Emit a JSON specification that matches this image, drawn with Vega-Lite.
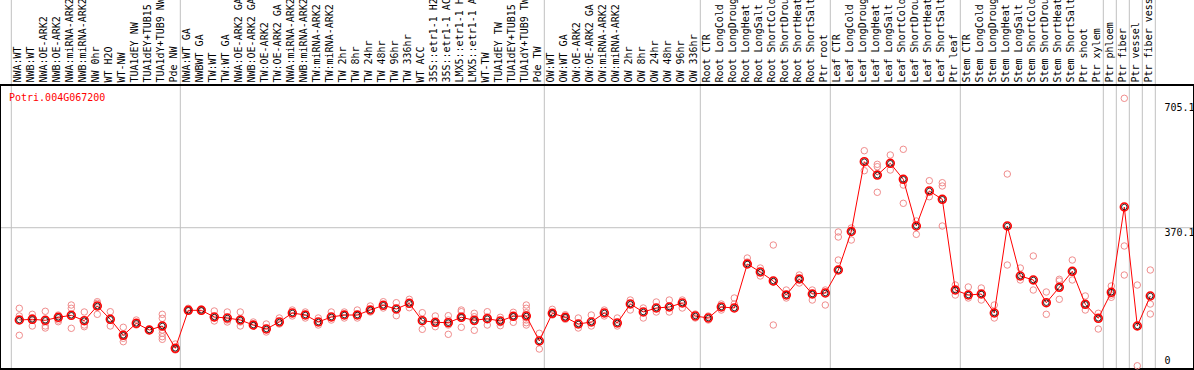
{
 "$schema": "https://vega.github.io/schema/vega-lite/v6.json",
 "width": 1194, "height": 370, "autosize": "none", "padding": 0,
 "background": "white",
 "config": {"view": {"stroke": null}, "font": "DejaVu Sans Mono"},
 "datasets": {
  "cols": [
   {"i":0,"col":"00 NWA:WT","mean":122.7,"start":true},
   {"i":1,"col":"01 NWB:WT","mean":124.6,"start":false},
   {"i":2,"col":"02 NWA:OE-ARK2","mean":121.9,"start":false},
   {"i":3,"col":"03 NWB:OE-ARK2","mean":130.0,"start":false},
   {"i":4,"col":"04 NWA:miRNA-ARK2","mean":135.3,"start":false},
   {"i":5,"col":"05 NWB:miRNA-ARK2","mean":120.9,"start":false},
   {"i":6,"col":"06 NW 0hr","mean":160.3,"start":false},
   {"i":7,"col":"07 WT H2O","mean":124.6,"start":false},
   {"i":8,"col":"08 WT-NW","mean":81.7,"start":false},
   {"i":9,"col":"09 TUA1dEY NW","mean":113.9,"start":false},
   {"i":10,"col":"10 TUA1dEY+TUB15 NW","mean":95.9,"start":false},
   {"i":11,"col":"11 TUA1dY+TUB9 NW","mean":106.7,"start":false},
   {"i":12,"col":"12 Pde NW","mean":46.9,"start":false},
   {"i":13,"col":"13 NWA:WT GA","mean":148.7,"start":true},
   {"i":14,"col":"14 NWBWT GA","mean":148.7,"start":false},
   {"i":15,"col":"15 TW:WT","mean":130.8,"start":false},
   {"i":16,"col":"16 TW:WT GA","mean":128.1,"start":false},
   {"i":17,"col":"17 NWA:OE-ARK2 GA","mean":122.7,"start":false},
   {"i":18,"col":"18 NWB:OE-ARK2 GA","mean":109.3,"start":false},
   {"i":19,"col":"19 TW:OE-ARK2","mean":98.6,"start":false},
   {"i":20,"col":"20 TW:OE-ARK2 GA","mean":117.4,"start":false},
   {"i":21,"col":"21 NWA:miRNA-ARK2","mean":141.5,"start":false},
   {"i":22,"col":"22 NWB:miRNA-ARK2","mean":136.1,"start":false},
   {"i":23,"col":"23 TW:miRNA-ARK2","mean":117.4,"start":false},
   {"i":24,"col":"24 TW:miRNA-ARK2","mean":130.8,"start":false},
   {"i":25,"col":"25 TW 2hr","mean":136.1,"start":false},
   {"i":26,"col":"26 TW 8hr","mean":136.1,"start":false},
   {"i":27,"col":"27 TW 24hr","mean":149.5,"start":false},
   {"i":28,"col":"28 TW 48hr","mean":162.1,"start":false},
   {"i":29,"col":"29 TW 96hr","mean":152.2,"start":false},
   {"i":30,"col":"30 TW 336hr","mean":167.5,"start":false},
   {"i":31,"col":"31 WT ACC","mean":120.9,"start":false},
   {"i":32,"col":"32 35S::etr1-1 H2O","mean":116.6,"start":false},
   {"i":33,"col":"33 35S::etr1-1 ACC","mean":115.5,"start":false},
   {"i":34,"col":"34 LMX5::etr1-1 H2O","mean":130.0,"start":false},
   {"i":35,"col":"35 LMX5::etr1-1 ACC","mean":121.9,"start":false},
   {"i":36,"col":"36 WT-TW","mean":126.2,"start":false},
   {"i":37,"col":"37 TUA1dEY TW","mean":120.1,"start":false},
   {"i":38,"col":"38 TUA1dEY+TUB15 TW","mean":132.7,"start":false},
   {"i":39,"col":"39 TUA1dY+TUB9 TW","mean":133.5,"start":false},
   {"i":40,"col":"40 Pde TW","mean":66.5,"start":false},
   {"i":41,"col":"41 OW:WT","mean":140.7,"start":true},
   {"i":42,"col":"42 OW:WT GA","mean":130.0,"start":false},
   {"i":43,"col":"43 OW:OE-ARK2","mean":112.0,"start":false},
   {"i":44,"col":"44 OW:OE-ARK2 GA","mean":117.4,"start":false},
   {"i":45,"col":"45 OW:miRNA-ARK2","mean":141.5,"start":false},
   {"i":46,"col":"46 OW:miRNA-ARK2","mean":114.7,"start":false},
   {"i":47,"col":"47 OW 2hr","mean":165.6,"start":false},
   {"i":48,"col":"48 OW 8hr","mean":144.2,"start":false},
   {"i":49,"col":"49 OW 24hr","mean":154.9,"start":false},
   {"i":50,"col":"50 OW 48hr","mean":157.6,"start":false},
   {"i":51,"col":"51 OW 96hr","mean":168.3,"start":false},
   {"i":52,"col":"52 OW 336hr","mean":133.5,"start":false},
   {"i":53,"col":"53 Root CTR","mean":128.1,"start":true},
   {"i":54,"col":"54 Root LongCold","mean":157.6,"start":false},
   {"i":55,"col":"55 Root LongDrought","mean":154.9,"start":false},
   {"i":56,"col":"56 Root LongHeat","mean":272.8,"start":false},
   {"i":57,"col":"57 Root LongSalt","mean":251.4,"start":false},
   {"i":58,"col":"58 Root ShortCold","mean":227.3,"start":false},
   {"i":59,"col":"59 Root ShortDrought","mean":189.7,"start":false},
   {"i":60,"col":"60 Root ShortHeat","mean":232.6,"start":false},
   {"i":61,"col":"61 Root ShortSalt","mean":192.4,"start":false},
   {"i":62,"col":"62 Ptr root","mean":195.1,"start":false},
   {"i":63,"col":"63 Leaf CTR","mean":256.7,"start":true},
   {"i":64,"col":"64 Leaf LongCold","mean":359.9,"start":false},
   {"i":65,"col":"65 Leaf LongDrought","mean":547.0,"start":false},
   {"i":66,"col":"66 Leaf LongHeat","mean":511.3,"start":false},
   {"i":67,"col":"67 Leaf LongSalt","mean":542.7,"start":false},
   {"i":68,"col":"68 Leaf ShortCold","mean":499.8,"start":false},
   {"i":69,"col":"69 Leaf ShortDrought","mean":374.7,"start":false},
   {"i":70,"col":"70 Leaf ShortHeat","mean":468.5,"start":false},
   {"i":71,"col":"71 Leaf ShortSalt","mean":446.2,"start":false},
   {"i":72,"col":"72 Ptr leaf","mean":203.1,"start":false},
   {"i":73,"col":"73 Stem CTR","mean":189.7,"start":true},
   {"i":74,"col":"74 Stem LongCold","mean":192.4,"start":false},
   {"i":75,"col":"75 Stem LongDrought","mean":141.5,"start":false},
   {"i":76,"col":"76 Stem LongHeat","mean":374.7,"start":false},
   {"i":77,"col":"77 Stem LongSalt","mean":240.7,"start":false},
   {"i":78,"col":"78 Stem ShortCold","mean":230.0,"start":false},
   {"i":79,"col":"79 Stem ShortDrought","mean":169.1,"start":false},
   {"i":80,"col":"80 Stem ShortHeat","mean":210.4,"start":false},
   {"i":81,"col":"81 Stem ShortSalt","mean":253.3,"start":false},
   {"i":82,"col":"82 Ptr shoot","mean":164.8,"start":false},
   {"i":83,"col":"83 Ptr xylem","mean":127.3,"start":false},
   {"i":84,"col":"84 Ptr phloem","mean":197.0,"start":true},
   {"i":85,"col":"85 Ptr fiber","mean":425.6,"start":true},
   {"i":86,"col":"86 Ptr vessel","mean":106.7,"start":true},
   {"i":87,"col":"87 Ptr fiber vessel","mean":187.1,"start":true}
  ],
  "reps": [
   {"i":0,"v":154.1},{"i":0,"v":133.5},{"i":0,"v":81.7},
   {"i":1,"v":138.0},{"i":1,"v":128.9},{"i":1,"v":106.7},
   {"i":2,"v":146.1},{"i":2,"v":106.7},{"i":2,"v":101.3},
   {"i":3,"v":136.1},{"i":3,"v":122.7},{"i":3,"v":118.2},
   {"i":4,"v":162.9},{"i":4,"v":154.1},{"i":4,"v":100.5},
   {"i":5,"v":144.2},{"i":5,"v":109.3},{"i":5,"v":104.8},
   {"i":6,"v":171.8},{"i":6,"v":167.5},{"i":6,"v":138.0},
   {"i":7,"v":145.0},{"i":7,"v":106.7},
   {"i":8,"v":103.2},{"i":8,"v":73.7},{"i":8,"v":64.6},
   {"i":9,"v":122.7},{"i":9,"v":109.3},
   {"i":10,"v":97.8},{"i":10,"v":94.1},
   {"i":11,"v":138.0},{"i":11,"v":127.3},{"i":11,"v":95.9},{"i":11,"v":87.1},{"i":11,"v":78.0},{"i":11,"v":71.0},
   {"i":12,"v":58.4},{"i":12,"v":42.3},
   {"i":13,"v":154.1},{"i":13,"v":148.7},
   {"i":14,"v":152.2},{"i":14,"v":146.9},
   {"i":15,"v":146.9},{"i":15,"v":128.1},{"i":15,"v":120.1},
   {"i":16,"v":144.2},{"i":16,"v":122.7},{"i":16,"v":117.4},
   {"i":17,"v":144.2},{"i":17,"v":117.4},{"i":17,"v":106.7},
   {"i":18,"v":117.4},{"i":18,"v":106.7},
   {"i":19,"v":112.0},{"i":19,"v":90.6},
   {"i":20,"v":128.1},{"i":20,"v":112.0},
   {"i":21,"v":149.5},{"i":21,"v":133.5},
   {"i":22,"v":144.2},{"i":22,"v":128.1},
   {"i":23,"v":128.1},{"i":23,"v":109.3},
   {"i":24,"v":144.2},{"i":24,"v":122.7},
   {"i":25,"v":144.2},{"i":25,"v":128.1},
   {"i":26,"v":149.5},{"i":26,"v":128.1},
   {"i":27,"v":160.3},{"i":27,"v":144.2},
   {"i":28,"v":171.8},{"i":28,"v":154.9},
   {"i":29,"v":169.1},{"i":29,"v":134.3},
   {"i":30,"v":178.2},{"i":30,"v":155.7},
   {"i":31,"v":142.3},{"i":31,"v":97.8},
   {"i":32,"v":133.5},{"i":32,"v":113.9},{"i":32,"v":104.8},
   {"i":33,"v":134.3},{"i":33,"v":122.7},{"i":33,"v":109.3},{"i":33,"v":84.4},
   {"i":34,"v":149.5},{"i":34,"v":145.0},{"i":34,"v":131.6},{"i":34,"v":103.2},
   {"i":35,"v":140.7},{"i":35,"v":131.6},{"i":35,"v":118.2},{"i":35,"v":95.1},
   {"i":36,"v":145.0},{"i":36,"v":131.6},{"i":36,"v":109.3},
   {"i":37,"v":130.0},{"i":37,"v":115.5},{"i":37,"v":107.5},
   {"i":38,"v":143.4},{"i":38,"v":131.6},{"i":38,"v":116.6},
   {"i":39,"v":162.9},{"i":39,"v":154.1},{"i":39,"v":142.3},{"i":39,"v":131.6},{"i":39,"v":122.7},{"i":39,"v":115.5},{"i":39,"v":109.3},
   {"i":40,"v":87.1},{"i":40,"v":45.0},
   {"i":41,"v":151.4},{"i":41,"v":140.7},{"i":41,"v":136.1},
   {"i":42,"v":136.9},{"i":42,"v":130.0},{"i":42,"v":124.6},
   {"i":43,"v":128.1},{"i":43,"v":101.3},
   {"i":44,"v":136.1},{"i":44,"v":106.7},
   {"i":45,"v":149.5},{"i":45,"v":133.5},
   {"i":46,"v":128.1},{"i":46,"v":106.7},
   {"i":47,"v":176.3},{"i":47,"v":149.5},
   {"i":48,"v":154.9},{"i":48,"v":128.1},
   {"i":49,"v":171.0},{"i":49,"v":144.2},
   {"i":50,"v":176.3},{"i":50,"v":144.2},
   {"i":51,"v":176.3},{"i":51,"v":154.9},
   {"i":52,"v":138.8},{"i":52,"v":128.1},
   {"i":53,"v":133.5},{"i":53,"v":122.7},
   {"i":54,"v":165.6},{"i":54,"v":149.5},
   {"i":55,"v":165.6},{"i":55,"v":181.7},
   {"i":56,"v":288.9},{"i":56,"v":278.2},
   {"i":57,"v":262.1},{"i":57,"v":240.7},
   {"i":58,"v":323.7},{"i":58,"v":224.6},{"i":58,"v":109.3},
   {"i":59,"v":203.1},{"i":59,"v":181.7},
   {"i":60,"v":243.3},{"i":60,"v":221.9},
   {"i":61,"v":203.1},{"i":61,"v":176.3},
   {"i":62,"v":203.1},{"i":62,"v":162.9},
   {"i":63,"v":358.6},{"i":63,"v":345.2},{"i":63,"v":283.5},
   {"i":64,"v":369.3},{"i":64,"v":337.1},
   {"i":65,"v":576.5},{"i":65,"v":522.9},
   {"i":66,"v":540.0},{"i":66,"v":533.6},{"i":66,"v":465.0},
   {"i":67,"v":565.0},{"i":67,"v":524.7},
   {"i":68,"v":580.2},{"i":68,"v":484.5},{"i":68,"v":435.5},
   {"i":69,"v":388.1},{"i":69,"v":352.4},
   {"i":70,"v":496.1},{"i":70,"v":453.2},
   {"i":71,"v":490.7},{"i":71,"v":481.9},{"i":71,"v":374.7},
   {"i":72,"v":216.5},{"i":72,"v":189.7},
   {"i":73,"v":211.2},{"i":73,"v":181.7},
   {"i":74,"v":208.5},{"i":74,"v":176.3},
   {"i":75,"v":162.9},{"i":75,"v":128.1},
   {"i":76,"v":514.0},{"i":76,"v":270.1},
   {"i":77,"v":262.1},{"i":77,"v":230.0},
   {"i":78,"v":294.3},{"i":78,"v":203.1},
   {"i":79,"v":197.8},{"i":79,"v":138.0},
   {"i":80,"v":231.8},{"i":80,"v":227.3},{"i":80,"v":178.2},
   {"i":81,"v":283.5},{"i":81,"v":230.0},
   {"i":82,"v":187.1},{"i":82,"v":149.5},
   {"i":83,"v":140.7},{"i":83,"v":98.6},
   {"i":84,"v":213.9},{"i":84,"v":189.7},{"i":84,"v":183.6},
   {"i":85,"v":716.9},{"i":85,"v":321.1},{"i":85,"v":243.3},
   {"i":86,"v":216.5},{"i":86,"v":0},
   {"i":87,"v":256.7},{"i":87,"v":165.6},{"i":87,"v":138.8}
  ],
  "gene": [{"name": "Potri.004G067200"}]
 },
 "layer": [
  {
   "data": {"name": "cols"},
   "transform": [{"filter": "datum.start"}],
   "mark": {"type": "rule", "color": "#c0c0c0", "strokeWidth": 1, "xOffset": -8},
   "encoding": {
    "x": {"field": "col", "type": "ordinal",
     "scale": {"type": "point", "range": [19.3, 1150.3], "padding": 0},
     "axis": {"orient": "top", "offset": -85, "labelAngle": 270, "labelAlign": "left", "labelBaseline": "middle",
      "labelPadding": 3, "labelOffset": -1.5, "ticks": false, "domain": false, "grid": false,
      "labelOverlap": false, "labelBound": false, "labelLimit": 1000, "labelExpr": "substring(datum.value, 3)",
      "labelFont": "DejaVu Sans Mono", "labelFontSize": 10, "labelColor": "black", "title": null}}
   }
  },
  {
   "data": {"name": "cols"},
   "transform": [{"filter": "datum.i == 87"}],
   "mark": {"type": "rule", "color": "#c0c0c0", "strokeWidth": 1, "xOffset": 5},
   "encoding": {"x": {"field": "col", "type": "ordinal"}}
  },
  {
   "data": {"name": "gene"},
   "mark": {"type": "rule", "color": "#c0c0c0", "strokeWidth": 1},
   "encoding": {"y": {"datum": 370.1, "type": "quantitative",
     "scale": {"domain": [-11.26, 980.4], "nice": false, "zero": false},
     "axis": {"orient": "right", "values": [0, 370.1, 705.1], "labelExpr": "'' + datum.value", "domain": false, "ticks": false, "grid": false,
      "offset": -30, "labelAlign": "left", "labelPadding": 0,
      "labelBaseline": {"condition": {"test": "datum.value == 0", "value": "bottom"}, "value": "top"},
      "labelFont": "DejaVu Sans Mono", "labelFontSize": 10, "labelColor": "black", "title": null}}}
  },
  {
   "data": {"name": "gene"},
   "mark": {"type": "rect", "fill": null, "fillOpacity": 0, "stroke": "black", "strokeWidth": 2},
   "encoding": {"y": {"datum": 752.6, "type": "quantitative"}, "y2": {"datum": -8.6}}
  },
  {
   "data": {"name": "reps"},
   "transform": [{"lookup": "i", "from": {"data": {"name": "cols"}, "key": "i", "fields": ["col"]}}],
   "mark": {"type": "point", "shape": "circle", "filled": false, "stroke": "#f08c8c", "strokeWidth": 1, "size": 42, "opacity": 1},
   "encoding": {"x": {"field": "col", "type": "ordinal"}, "y": {"field": "v", "type": "quantitative"}}
  },
  {
   "data": {"name": "cols"},
   "mark": {"type": "line", "color": "#ff0000", "strokeWidth": 1},
   "encoding": {"x": {"field": "col", "type": "ordinal"}, "y": {"field": "mean", "type": "quantitative"}}
  },
  {
   "data": {"name": "cols"},
   "mark": {"type": "point", "shape": "circle", "filled": false, "stroke": "#ff0000", "strokeWidth": 1.6, "size": 62, "opacity": 1},
   "encoding": {"x": {"field": "col", "type": "ordinal"}, "y": {"field": "mean", "type": "quantitative"}}
  },
  {
   "data": {"name": "cols"},
   "mark": {"type": "point", "shape": "circle", "filled": false, "stroke": "black", "strokeWidth": 0.8, "size": 30, "opacity": 1},
   "encoding": {"x": {"field": "col", "type": "ordinal"}, "y": {"field": "mean", "type": "quantitative"}}
  },
  {
   "data": {"name": "gene"},
   "mark": {"type": "text", "align": "left", "baseline": "alphabetic", "color": "#ff0000", "font": "DejaVu Sans Mono", "fontSize": 10, "xOffset": -10.3},
   "encoding": {"x": {"datum": "00 NWA:WT", "type": "ordinal"}, "y": {"datum": 709.7, "type": "quantitative"}, "text": {"field": "name"}}
  }
 ]
}
